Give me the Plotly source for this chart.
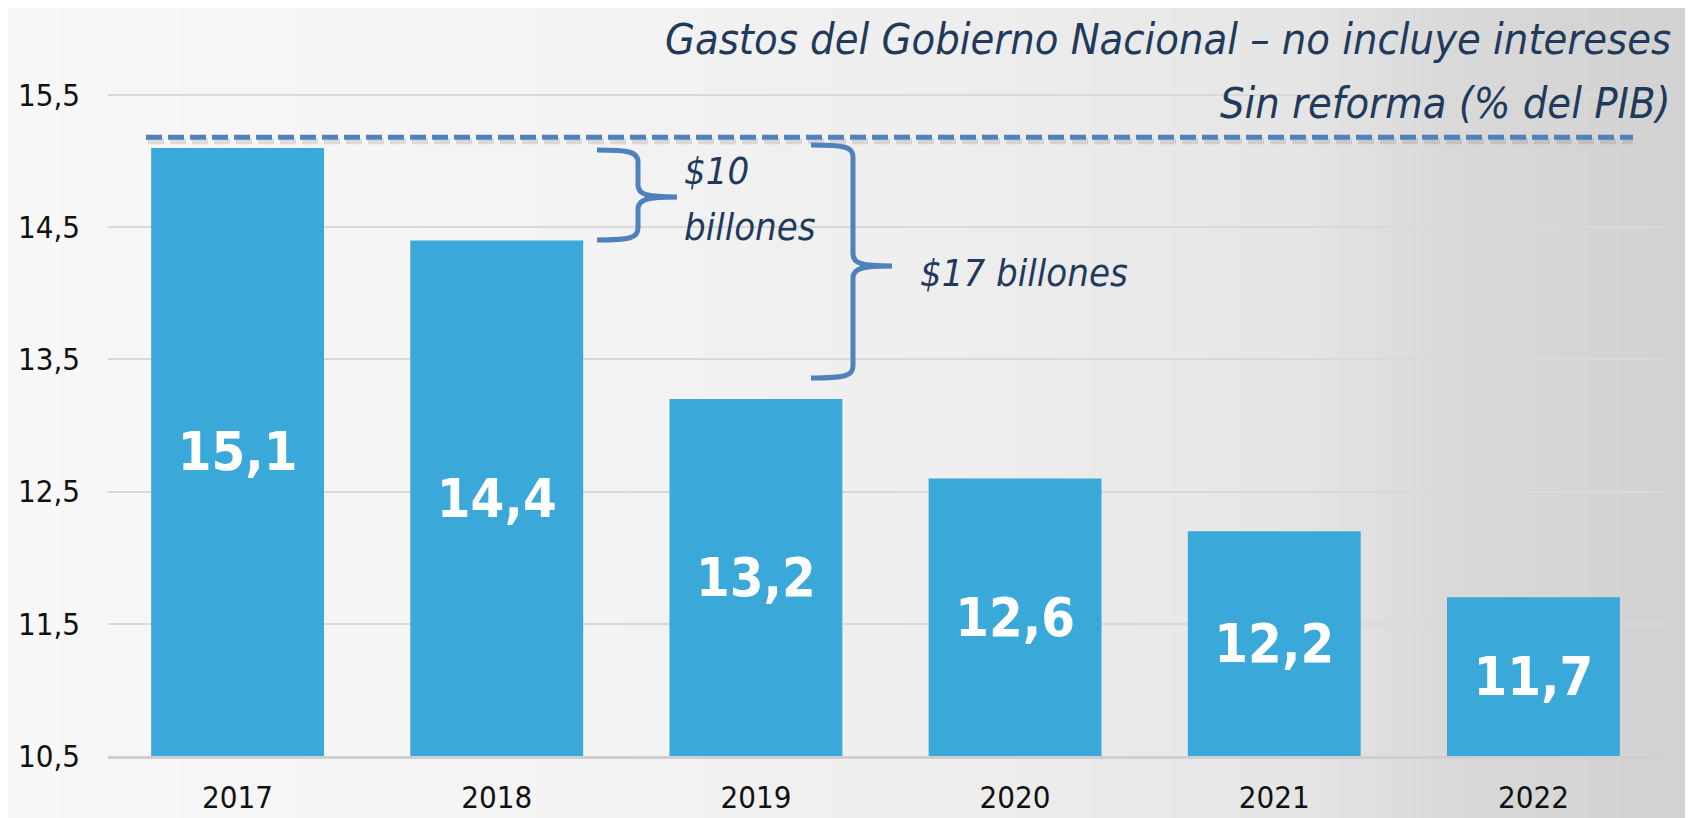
import plotly.graph_objects as go

# ---------------- data ----------------
years = ["2017", "2018", "2019", "2020", "2021", "2022"]
gasto_pib = [15.1, 14.4, 13.2, 12.6, 12.2, 11.7]
gasto_labels = ["15,1", "14,4", "13,2", "12,6", "12,2", "11,7"]
ytick_vals = [10.5, 11.5, 12.5, 13.5, 14.5, 15.5]
ytick_text = ["10,5", "11,5", "12,5", "13,5", "14,5", "15,5"]
nivel_referencia = 15.18
title_lines = ["Gastos del Gobierno Nacional – no incluye intereses", "Sin reforma (% del PIB)"]
brace_labels = ["$10", "billones", "$17 billones"]

# ---------------- layout geometry (screen pixels) ----------------
OFF = 8                      # default page margin around the plot div
SW, SH = 1693, 818           # screen size
W, H = SW - OFF, SH - OFF    # figure size
PL, PR, PT, PB = 108, 1663, 30, 756   # plot area in screen pixels
ML = PL - OFF
MR = (W + OFF) - PR
MT, MB = PT - OFF, (H + OFF) - PB
PW = PR - PL
PH = PB - PT
Y_BOTTOM = 10.5
PX_PER_UNIT = 132.2
Y_TOP = Y_BOTTOM + PH / PX_PER_UNIT

NARROW = "DejaVu Sans Condensed, Liberation Sans Narrow, Arial Narrow, sans-serif"
NAVY = "#213a5c"
BRACE_BLUE = "#4f81bd"
BAR_BLUE = "#3aa8d8"


def px(xp):
    return (xp - PL) / PW


def py(yp):
    return (PB - yp) / PH


def brace_path(x_end, x_bar, x_tip, y_top, y_mid, y_bot):
    r = 12
    pts = [
        f"M{px(x_end)},{py(y_top)}",
        f"C{px(x_bar - 8)},{py(y_top)} {px(x_bar)},{py(y_top + 2)} {px(x_bar)},{py(y_top + r)}",
        f"L{px(x_bar)},{py(y_mid - r)}",
        f"C{px(x_bar)},{py(y_mid - 2)} {px(x_bar + 10)},{py(y_mid)} {px(x_tip)},{py(y_mid)}",
        f"C{px(x_bar + 10)},{py(y_mid)} {px(x_bar)},{py(y_mid + 2)} {px(x_bar)},{py(y_mid + r)}",
        f"L{px(x_bar)},{py(y_bot - r)}",
        f"C{px(x_bar)},{py(y_bot - 2)} {px(x_bar - 8)},{py(y_bot)} {px(x_end)},{py(y_bot)}",
    ]
    return " ".join(pts)


fig = go.Figure()

# bars drawn from the axis floor so the inside labels sit in the visible middle
fig.add_trace(
    go.Bar(
        x=years,
        y=[v - Y_BOTTOM for v in gasto_pib],
        base=Y_BOTTOM,
        marker=dict(color=BAR_BLUE, line=dict(width=0)),
        text=gasto_labels,
        textposition="inside",
        insidetextanchor="middle",
        textangle=0,
        textfont=dict(family=NARROW, size=54, color="white", weight="bold"),
        hoverinfo="skip",
    )
)

shapes = []

# background gradient (decorative)
stops = [(0, (248, 248, 248)), (600, (243, 243, 243)), (1000, (237, 237, 237)),
         (1300, (229, 229, 229)), (1450, (217, 217, 217)), (1693, (209, 209, 209))]


def col_at(x):
    for (x0, c0), (x1, c1) in zip(stops[:-1], stops[1:]):
        if x0 <= x <= x1:
            t = (x - x0) / (x1 - x0)
            return "rgb(%d,%d,%d)" % tuple(round(a + (b - a) * t) for a, b in zip(c0, c1))
    return "rgb(209,209,209)"


step = 10
for x0 in range(0, SW + step, step):
    shapes.append(dict(type="rect", xref="paper", yref="paper", layer="below",
                       x0=px(x0), x1=px(x0 + step + 1), y0=py(SH + 2), y1=py(-2),
                       fillcolor=col_at(x0 + step / 2), line=dict(width=0)))

# dashed reference line with soft shadow
shapes.append(dict(type="line", xref="paper", yref="y", x0=px(148), x1=px(1633),
                   y0=nivel_referencia - 4 / PX_PER_UNIT, y1=nivel_referencia - 4 / PX_PER_UNIT,
                   line=dict(color="rgba(80,80,80,0.16)", width=6, dash="16px,6px")))
shapes.append(dict(type="line", xref="paper", yref="y", x0=px(146), x1=px(1633),
                   y0=nivel_referencia, y1=nivel_referencia,
                   line=dict(color=BRACE_BLUE, width=5, dash="16px,6px")))

# braces
for args in [(597, 638, 677, 150, 197, 240), (811, 853, 892, 145, 266, 378)]:
    shapes.append(dict(type="path", xref="paper", yref="paper",
                       path=brace_path(*args), line=dict(color=BRACE_BLUE, width=5)))

title_font = dict(family=NARROW, size=43, color=NAVY, style="italic")
brace_font = dict(family=NARROW, size=38, color=NAVY, style="italic")
annotations = [
    dict(text=title_lines[0], xref="paper", yref="paper", x=px(1673), y=py(39),
         xanchor="right", yanchor="middle", showarrow=False, font=title_font),
    dict(text=title_lines[1], xref="paper", yref="paper", x=px(1673), y=py(103),
         xanchor="right", yanchor="middle", showarrow=False, font=title_font),
    dict(text=brace_labels[0], xref="paper", yref="paper", x=px(682), y=py(171),
         xanchor="left", yanchor="middle", showarrow=False, font=brace_font),
    dict(text=brace_labels[1], xref="paper", yref="paper", x=px(682), y=py(227),
         xanchor="left", yanchor="middle", showarrow=False, font=brace_font),
    dict(text=brace_labels[2], xref="paper", yref="paper", x=px(918), y=py(273),
         xanchor="left", yanchor="middle", showarrow=False, font=brace_font),
]

fig.update_layout(
    width=W, height=H,
    margin=dict(l=ML, r=MR, t=MT, b=MB, pad=0, autoexpand=False),
    paper_bgcolor="#f5f5f5",
    plot_bgcolor="rgba(0,0,0,0)",
    bargap=0.333,
    showlegend=False,
    shapes=shapes,
    annotations=annotations,
    xaxis=dict(
        type="category",
        showgrid=False,
        showline=True, linecolor="#cfcfcf", linewidth=3,
        ticks="", tickfont=dict(family=NARROW, size=31, color="#111111"),
        ticklabelstandoff=12,
        automargin=False,
        fixedrange=True,
    ),
    yaxis=dict(
        range=[Y_BOTTOM, Y_TOP],
        tickvals=ytick_vals, ticktext=ytick_text,
        showgrid=True, gridcolor="#d9d9d9", gridwidth=1.5,
        zeroline=False, showline=False,
        ticks="", tickfont=dict(family=NARROW, size=31, color="#111111"),
        ticklabelstandoff=27,
        automargin=False,
        fixedrange=True,
    ),
)

fig.write_html("out.html")
